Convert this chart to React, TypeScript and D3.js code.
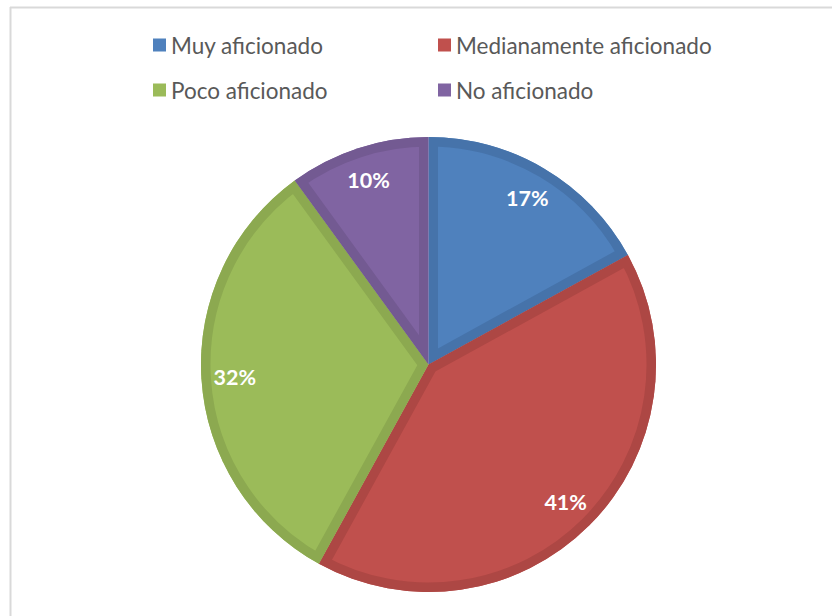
import React, { useEffect, useRef } from 'react';
import * as d3 from 'd3';

// chart data
const categories = ['Muy aficionado', 'Medianamente aficionado', 'Poco aficionado', 'No aficionado'];
const values = [17, 41, 32, 10];
const labels = ['17%', '41%', '32%', '10%'];
const fills = ['#4F81BD', '#C0504D', '#9BBB59', '#8064A2'];
const edges = ['#4673AA', '#AD4744', '#8CA950', '#735A92'];

export default function App() {
  const ref = useRef<SVGSVGElement>(null);

  useEffect(() => {
    const svg = d3.select(ref.current);
    svg.selectAll('*').remove();

    const width = 832;
    const height = 616;
    const cx = 428.5;
    const cy = 364.5;
    const radius = 227.5;

    // chart area border (only top and left visible)
    svg.append('line')
      .attr('x1', 10).attr('y1', 7.5).attr('x2', width).attr('y2', 7.5)
      .attr('stroke', '#d9d9d9').attr('stroke-width', 2);
    svg.append('line')
      .attr('x1', 10.5).attr('y1', 7).attr('x2', 10.5).attr('y2', height)
      .attr('stroke', '#d9d9d9').attr('stroke-width', 2);

    const pie = d3.pie<number>().sort(null).value(d => d);
    const arcs = pie(values);
    const arc = d3.arc<d3.PieArcDatum<number>>().innerRadius(0).outerRadius(radius);
    const labelArc = d3.arc<d3.PieArcDatum<number>>().innerRadius(194).outerRadius(194);

    const defs = svg.append('defs');
    defs.selectAll('clipPath')
      .data(arcs)
      .enter().append('clipPath')
      .attr('id', (d, i) => 'slice-clip-' + i)
      .append('path')
      .attr('d', d => arc(d) as string);

    const g = svg.append('g').attr('transform', `translate(${cx},${cy})`);

    // slice fill
    g.selectAll('path.slice')
      .data(arcs)
      .enter().append('path')
      .attr('class', 'slice')
      .attr('d', d => arc(d) as string)
      .attr('fill', (d, i) => fills[i]);

    // darker inner edge band, clipped to each slice
    g.selectAll('path.edge')
      .data(arcs)
      .enter().append('path')
      .attr('class', 'edge')
      .attr('d', d => arc(d) as string)
      .attr('fill', 'none')
      .attr('stroke', (d, i) => edges[i])
      .attr('stroke-width', 19)
      .attr('stroke-linejoin', 'miter')
      .attr('stroke-miterlimit', 10)
      .attr('clip-path', (d, i) => `url(#slice-clip-${i})`);

    // percentage labels
    g.selectAll('text.pct')
      .data(arcs)
      .enter().append('text')
      .attr('class', 'pct')
      .attr('x', d => labelArc.centroid(d)[0])
      .attr('y', d => labelArc.centroid(d)[1])
      .attr('text-anchor', 'middle')
      .attr('dominant-baseline', 'central')
      .attr('fill', '#ffffff')
      .style('font-family', 'Lato, sans-serif')
      .style('font-weight', 'bold')
      .style('font-size', '21.5px')
      .text((d, i) => labels[i]);

    // legend, two columns by two rows
    const legend = svg.append('g');
    const item = legend.selectAll('g.item')
      .data(categories)
      .enter().append('g')
      .attr('class', 'item')
      .attr('transform', (d, i) => `translate(${i % 2 === 0 ? 153 : 438},${i < 2 ? 45 : 90})`);

    item.append('rect')
      .attr('x', 0).attr('y', -6.5)
      .attr('width', 13).attr('height', 13)
      .attr('fill', (d, i) => fills[i]);

    item.append('text')
      .attr('x', 18)
      .attr('y', 0)
      .attr('dominant-baseline', 'central')
      .attr('fill', '#595959')
      .style('font-family', 'Lato, sans-serif')
      .style('font-size', '22.5px')
      .text(d => d);
  }, []);

  return (
    <svg
      ref={ref}
      width={832}
      height={616}
      style={{ position: 'absolute', left: 0, top: 0, background: '#fff' }}
    />
  );
}
